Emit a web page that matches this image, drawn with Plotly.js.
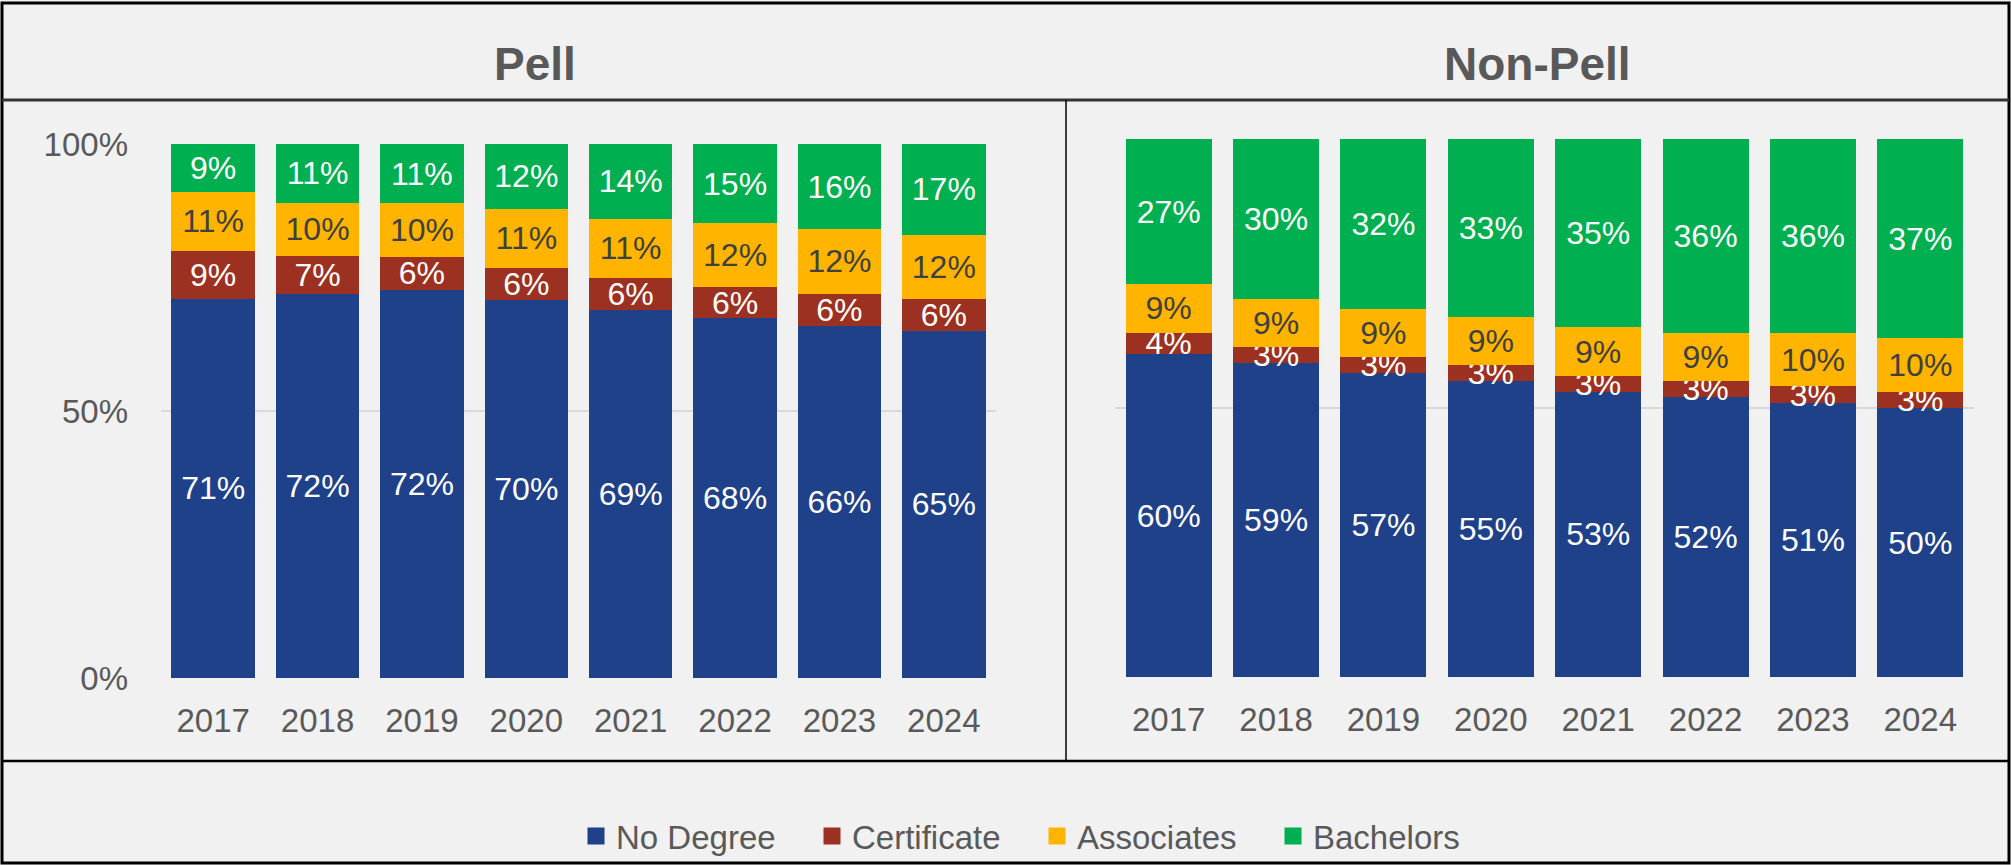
<!DOCTYPE html>
<html>
<head>
<meta charset="utf-8">
<script src="https://cdn.plot.ly/plotly-3.0.1.min.js"></script>
<style>
html,body{margin:0;padding:0;background:#f1f1f1;}
#chart{width:2011px;height:865px;}
</style>
</head>
<body>
<div id="chart"></div>
<script>
const years = ['2017','2018','2019','2020','2021','2022','2023','2024'];
const seriesNames = ['No Degree','Certificate','Associates','Bachelors'];
const seriesColors = ['#1f418a','#9c3121','#ffb400','#00af50'];
const labelColors = ['#ffffff','#ffffff','#404040','#ffffff'];

// Pell
const pellNoDegree   = [71,72,72,70,69,68,66,65];
const pellCertificate= [9,7,6,6,6,6,6,6];
const pellAssociates = [11,10,10,11,11,12,12,12];
const pellBachelors  = [9,11,11,12,14,15,16,17];

// Non-Pell
const nonNoDegree    = [60,59,57,55,53,52,51,50];
const nonCertificate = [4,3,3,3,3,3,3,3];
const nonAssociates  = [9,9,9,9,9,9,10,10];
const nonBachelors   = [27,30,32,33,35,36,36,37];

const panelTitles = ['Pell','Non-Pell'];

const pellSeries = [pellNoDegree,pellCertificate,pellAssociates,pellBachelors];
const nonSeries  = [nonNoDegree,nonCertificate,nonAssociates,nonBachelors];

// legend entry widths (px) – spacing only
const legendWidths = [191,180,191,150];

const FONT = 'Arial, "Liberation Sans", sans-serif';
const traces = [];

// legend-only entries (larger swatches) on a hidden subplot
seriesNames.forEach((nm,i)=>{
  traces.push({
    type:'bar', x:['legend'], y:[1], name:nm, xaxis:'x3', yaxis:'y3',
    marker:{color:seriesColors[i], line:{color:seriesColors[i], width:5}},
    showlegend:true, legendwidth:legendWidths[i], hoverinfo:'skip'
  });
});

function addTraces(series, xa, ya){
  series.forEach((vals,i)=>{
    traces.push({
      type:'bar', x:years, y:vals, name:seriesNames[i],
      xaxis:xa, yaxis:ya,
      marker:{color:seriesColors[i], line:{width:0}},
      text: vals.map(v=>v+'%'),
      textposition:'inside', insidetextanchor:'middle', textangle:0,
      constraintext:'none',
      insidetextfont:{family:FONT, size:32, color:labelColors[i]},
      showlegend:false, hoverinfo:'skip'
    });
  });
}
addTraces(pellSeries,'x','y');
addTraces(nonSeries,'x2','y2');

const W=2011, H=865;
const px = v=>v/W, py = v=>(H-v)/H;

const axisX = {
  type:'category', showgrid:false, zeroline:false, showline:false,
  ticks:'', ticklabelstandoff:20,
  tickfont:{family:FONT, size:33, color:'#595959'}, fixedrange:true
};
const axisY = {
  range:[0,1], tickvals:[0,0.5,1], tickformat:'.0%',
  showgrid:true, gridcolor:'#d9d9d9', gridwidth:2, zeroline:false, showline:false,
  ticks:'', ticklabelstandoff:32,
  tickfont:{family:FONT, size:33, color:'#595959'}, fixedrange:true
};

const layout = {
  width:W, height:H,
  margin:{l:0,r:0,t:0,b:0},
  paper_bgcolor:'#f1f1f1', plot_bgcolor:'#f1f1f1',
  barmode:'stack', barnorm:'fraction', bargap:0.2,
  font:{family:FONT, color:'#595959'},
  xaxis:Object.assign({}, axisX, {domain:[px(161), px(996)], anchor:'y'}),
  yaxis:Object.assign({}, axisY, {domain:[py(678), py(144)], anchor:'x'}),
  xaxis2:Object.assign({}, axisX, {domain:[px(1115), px(1974)], anchor:'y2'}),
  yaxis2:Object.assign({}, axisY, {domain:[py(677), py(139)], anchor:'x2', showticklabels:false}),
  xaxis3:{domain:[0,0.01], anchor:'y3', visible:false, type:'category', fixedrange:true},
  yaxis3:{domain:[0,0.01], anchor:'x3', visible:false, range:[5,6], fixedrange:true},
  legend:{orientation:'h', x:px(1022), xanchor:'center', y:py(836), yanchor:'middle',
          font:{family:FONT, size:33, color:'#595959'}, bgcolor:'rgba(0,0,0,0)',
          traceorder:'normal', itemclick:false},
  annotations:[
    {text:panelTitles[0], xref:'paper', yref:'paper', x:px(535), y:py(64), xanchor:'center', yanchor:'middle',
     showarrow:false, font:{family:FONT, size:46, color:'#595959', weight:'bold'}},
    {text:panelTitles[1], xref:'paper', yref:'paper', x:px(1537), y:py(64), xanchor:'center', yanchor:'middle',
     showarrow:false, font:{family:FONT, size:46, color:'#595959', weight:'bold'}}
  ],
  shapes:[
    {type:'rect', xref:'paper', yref:'paper', x0:px(2), x1:px(2009), y0:py(863), y1:py(3), line:{color:'#000', width:3}},
    {type:'line', xref:'paper', yref:'paper', x0:px(2), x1:px(2009), y0:py(100), y1:py(100), line:{color:'#333', width:3}},
    {type:'line', xref:'paper', yref:'paper', x0:px(1066), x1:px(1066), y0:py(100), y1:py(761), line:{color:'#000', width:1.5}},
    {type:'line', xref:'paper', yref:'paper', x0:px(2), x1:px(2009), y0:py(761), y1:py(761), line:{color:'#000', width:2.5}}
  ]
};

Plotly.newPlot('chart', traces, layout, {displayModeBar:false, staticPlot:true});
</script>
</body>
</html>
